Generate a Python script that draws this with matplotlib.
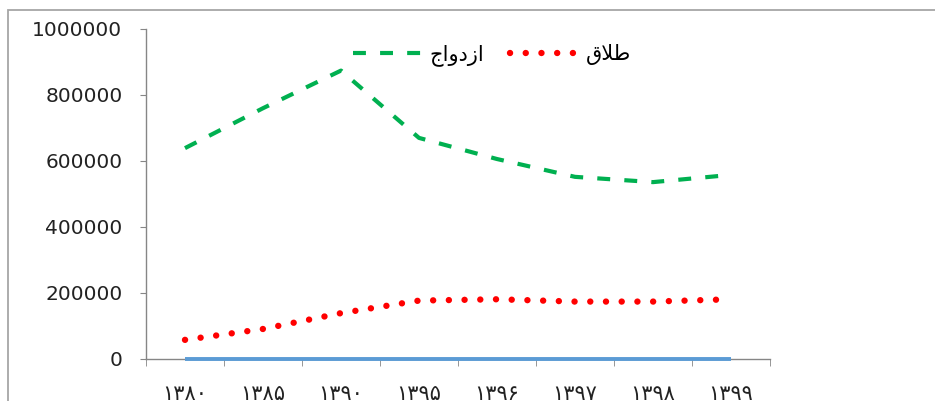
import matplotlib.pyplot as plt
from matplotlib.patches import Rectangle

# years (Persian digits) and series values
years = ['۱۳۸۰', '۱۳۸۵', '۱۳۹۰', '۱۳۹۵', '۱۳۹۶', '۱۳۹۷', '۱۳۹۸', '۱۳۹۹']
marriage = [639000, 760000, 874000, 670000, 606000, 552000, 536000, 558000]
divorce = [58000, 91000, 139000, 177000, 181000, 174000, 174000, 181000]
baseline = [0, 0, 0, 0, 0, 0, 0, 0]

# labels: letters given in visual order (matplotlib does no arabic shaping)
label_marriage = 'جاودزا'                      # ازدواج
label_divorce = '\u0642\ufefc\ufec3'           # طلاق

plt.rcParams['font.family'] = ['DejaVu Sans']

fig = plt.figure(figsize=(9.35, 4.01), dpi=100)
ax = fig.add_axes([146 / 935, 1 - 359 / 401, 624 / 935, 330 / 401])

x = list(range(len(years)))
ax.plot(x, baseline, color='#5B9BD5', lw=2.8, solid_capstyle='butt', zorder=3,
        clip_on=False)
ax.plot(x, marriage, color='#00B050', lw=3.0, linestyle=(0, (3.1, 3.4)),
        label=label_marriage)
ax.plot(x, divorce, color='#FF0000', lw=4.6, linestyle=(0, (0.01, 2.45)),
        dash_capstyle='round', label=label_divorce)

ax.set_xlim(-0.5, len(years) - 0.5)
ax.set_ylim(0, 1000000)
ax.set_yticks(range(0, 1000001, 200000))
ax.set_yticklabels([str(v) for v in range(0, 1000001, 200000)])
ax.set_xticks(x)
ax.set_xticklabels(years)
ax.set_xticks([i - 0.5 for i in range(len(years) + 1)], minor=True)

grey = '#868686'
for s in ['top', 'right']:
    ax.spines[s].set_visible(False)
for s in ['left', 'bottom']:
    ax.spines[s].set_color(grey)
    ax.spines[s].set_linewidth(1.0)
ax.tick_params(axis='y', length=4, color=grey, pad=13, labelsize=14.5, labelcolor='#222222')
ax.tick_params(axis='x', which='major', length=0, pad=18, labelsize=15, labelcolor='#222222')
ax.tick_params(axis='x', which='minor', length=5, color=grey)

ax.legend(loc='center', bbox_to_anchor=(0.5545, 0.921), ncol=2, frameon=False,
          fontsize=15, handlelength=3.3, handletextpad=0.35, columnspacing=1.25)

# outer chart frame
fig.add_artist(Rectangle((8 / 935, -0.1), 1.2, 1.1 - 10 / 401, transform=fig.transFigure,
                         fill=False, edgecolor='#a6a6a6', lw=1.3))

fig.savefig('out.png', dpi=100)
